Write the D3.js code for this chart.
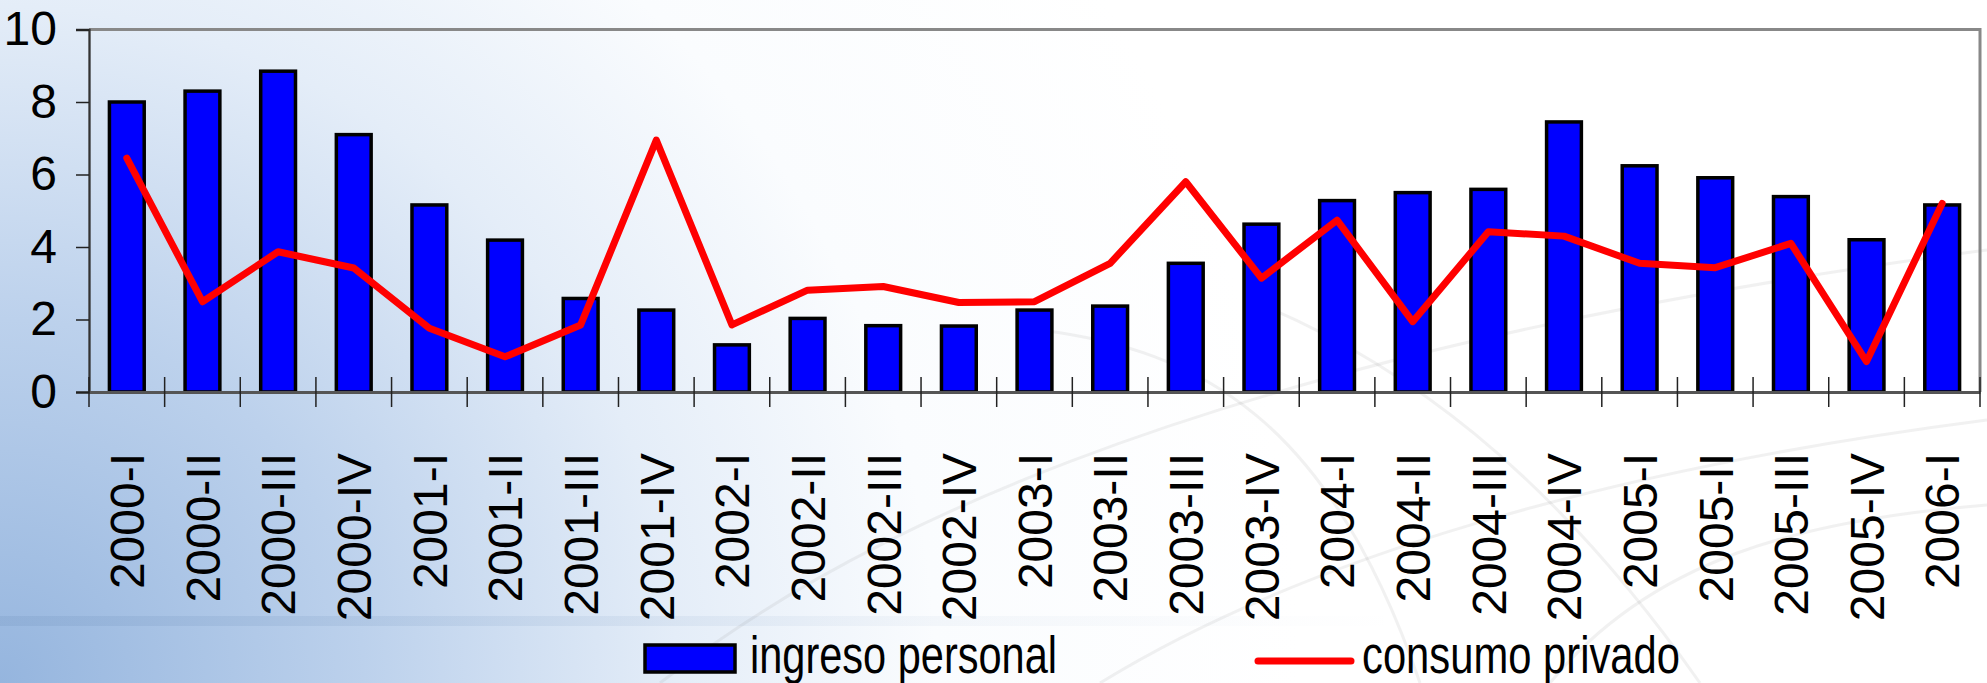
<!DOCTYPE html>
<html>
<head>
<meta charset="utf-8">
<script src="https://cdn.jsdelivr.net/npm/d3@7"></script>
<style>
  html, body { margin: 0; padding: 0; background: #fff; }
  svg { display: block; font-family: "Liberation Sans", Arial, sans-serif; }
</style>
</head>
<body>
<div id="chart"></div>
<script>
// ---- data ----
const quarters = ["2000-I", "2000-II", "2000-III", "2000-IV",
                  "2001-I", "2001-II", "2001-III", "2001-IV",
                  "2002-I", "2002-II", "2002-III", "2002-IV",
                  "2003-I", "2003-II", "2003-III", "2003-IV",
                  "2004-I", "2004-II", "2004-III", "2004-IV",
                  "2005-I", "2005-II", "2005-III", "2005-IV",
                  "2006-I"];
const ingresoPersonal = [8.0, 8.3, 8.85, 7.1, 5.16, 4.19, 2.58, 2.26,
                         1.3, 2.03, 1.83, 1.82, 2.26, 2.37, 3.55, 4.63,
                         5.28, 5.5, 5.59, 7.45, 6.24, 5.91, 5.39, 4.2, 5.16];
const consumoPrivado = [6.45, 2.49, 3.87, 3.42, 1.76, 0.97, 1.85, 6.95,
                        1.85, 2.81, 2.91, 2.47, 2.49, 3.55, 5.8, 3.14,
                        4.74, 1.94, 4.42, 4.3, 3.55, 3.43, 4.1, 0.84, 5.2];
const yTicks = [0, 2, 4, 6, 8, 10];
const seriesNames = ["ingreso personal", "consumo privado"];

(function() {
    // ---- layout ----
    const width = 1987, height = 683;
    const plotLeft = 89, plotRight = 1980, plotTop = 29.5, plotBottom = 392;

    const svg = d3.select("#chart").append("svg")
        .attr("width", width).attr("height", height);

    const defs = svg.append("defs");
    const bg = defs.append("radialGradient")
        .attr("id", "bg").attr("gradientUnits", "userSpaceOnUse")
        .attr("cx", 0).attr("cy", 683).attr("r", 1300);
    bg.append("stop").attr("offset", "0%").attr("stop-color", "#95b5de");
    bg.append("stop").attr("offset", "28%").attr("stop-color", "#bcd1ec");
    bg.append("stop").attr("offset", "52%").attr("stop-color", "#e4edf8");
    bg.append("stop").attr("offset", "72%").attr("stop-color", "#fafcfe");
    bg.append("stop").attr("offset", "100%").attr("stop-color", "#ffffff");

    svg.append("rect").attr("width", width).attr("height", height).attr("fill", "url(#bg)");

    // faint horizontal band + decorative curves of the slide background
    const band = defs.append("linearGradient").attr("id", "band");
    band.append("stop").attr("offset", "0%").attr("stop-color", "#6d8fba").attr("stop-opacity", 0.22);
    band.append("stop").attr("offset", "60%").attr("stop-color", "#6d8fba").attr("stop-opacity", 0.07);
    band.append("stop").attr("offset", "100%").attr("stop-color", "#6d8fba").attr("stop-opacity", 0);
    svg.append("rect").attr("x", 0).attr("y", 616).attr("width", 1400).attr("height", 10)
        .attr("fill", "url(#band)");

    const deco = svg.append("g").attr("fill", "none").attr("stroke", "#8a8a8a")
        .attr("stroke-opacity", 0.12).attr("stroke-width", 3);
    deco.append("path").attr("d", "M660,683 C820,560 1150,360 1987,250");
    deco.append("path").attr("d", "M1100,683 C1300,560 1600,470 1987,420");
    deco.append("path").attr("d", "M1250,300 C1400,360 1550,470 1700,683");
    deco.append("path").attr("d", "M1550,683 C1650,560 1800,520 1987,505");
    deco.append("path").attr("d", "M1040,330 C1200,350 1330,420 1420,683");

    // ---- scales ----
    const x = d3.scaleBand().domain(quarters).range([plotLeft, plotRight]);
    const y = d3.scaleLinear().domain([0, 10]).range([plotBottom, plotTop]);

    // plot frame (top and right in gray)
    svg.append("path")
        .attr("d", `M${plotLeft},${plotTop}H${plotRight}V${plotBottom}`)
        .attr("fill", "none").attr("stroke", "#888").attr("stroke-width", 3);

    // ---- y axis ----
    const yAxis = svg.append("g")
        .attr("transform", `translate(${plotLeft},0)`)
        .call(d3.axisLeft(y).tickValues(yTicks).tickSize(13).tickPadding(19));
    yAxis.select(".domain").attr("stroke", "#333").attr("stroke-width", 2.3);
    yAxis.selectAll(".tick line").attr("stroke", "#222").attr("stroke-width", 1.5);
    yAxis.selectAll(".tick text")
        .attr("fill", "#000").style("font-size", "48px");

    // ---- bars ----
    const barW = x.bandwidth() * 0.46;
    svg.append("g").selectAll("rect")
        .data(ingresoPersonal)
        .join("rect")
        .attr("x", (d, i) => x(quarters[i]) + (x.bandwidth() - barW) / 2)
        .attr("y", d => y(d))
        .attr("width", barW)
        .attr("height", d => y(0) - y(d))
        .attr("fill", "#0000ff")
        .attr("stroke", "#000")
        .attr("stroke-width", 3.5);

    // ---- x axis ----
    const xAxis = svg.append("g")
        .attr("transform", `translate(0,${plotBottom})`)
        .call(d3.axisBottom(x).tickSize(0).tickPadding(0));
    xAxis.select(".domain").attr("stroke", "#555").attr("stroke-width", 3);
    xAxis.selectAll(".tick text")
        .attr("transform", "rotate(-90)")
        .attr("x", -61)
        .attr("y", 0)
        .attr("dy", "0.36em")
        .style("text-anchor", "end")
        .style("font-size", "48px")
        .attr("fill", "#000");

    // tick marks between categories, crossing the axis
    const edges = quarters.map(q => x(q)).concat([plotRight]);
    svg.append("g").selectAll("line")
        .data(edges)
        .join("line")
        .attr("x1", d => d).attr("x2", d => d)
        .attr("y1", plotBottom - 15).attr("y2", plotBottom + 15)
        .attr("stroke", "#222").attr("stroke-width", 1.5);

    // ---- line ----
    const line = d3.line()
        .x((d, i) => x(quarters[i]) + x.bandwidth() / 2)
        .y(d => y(d));
    svg.append("path")
        .datum(consumoPrivado)
        .attr("d", line)
        .attr("fill", "none")
        .attr("stroke", "#ff0000")
        .attr("stroke-width", 7)
        .attr("stroke-linejoin", "round")
        .attr("stroke-linecap", "round");

    // ---- legend ----
    const legend = svg.append("g");
    legend.append("rect")
        .attr("x", 645).attr("y", 645).attr("width", 90).attr("height", 27)
        .attr("fill", "#0000ff").attr("stroke", "#000").attr("stroke-width", 3.5);
    legend.append("text")
        .attr("x", 750).attr("y", 673)
        .attr("textLength", 307).attr("lengthAdjust", "spacingAndGlyphs")
        .style("font-size", "51px")
        .text(seriesNames[0]);
    legend.append("line")
        .attr("x1", 1258).attr("x2", 1351).attr("y1", 661).attr("y2", 661)
        .attr("stroke", "#ff0000").attr("stroke-width", 7).attr("stroke-linecap", "round");
    legend.append("text")
        .attr("x", 1362).attr("y", 673)
        .attr("textLength", 318).attr("lengthAdjust", "spacingAndGlyphs")
        .style("font-size", "51px")
        .text(seriesNames[1]);
})();
</script>
</body>
</html>
